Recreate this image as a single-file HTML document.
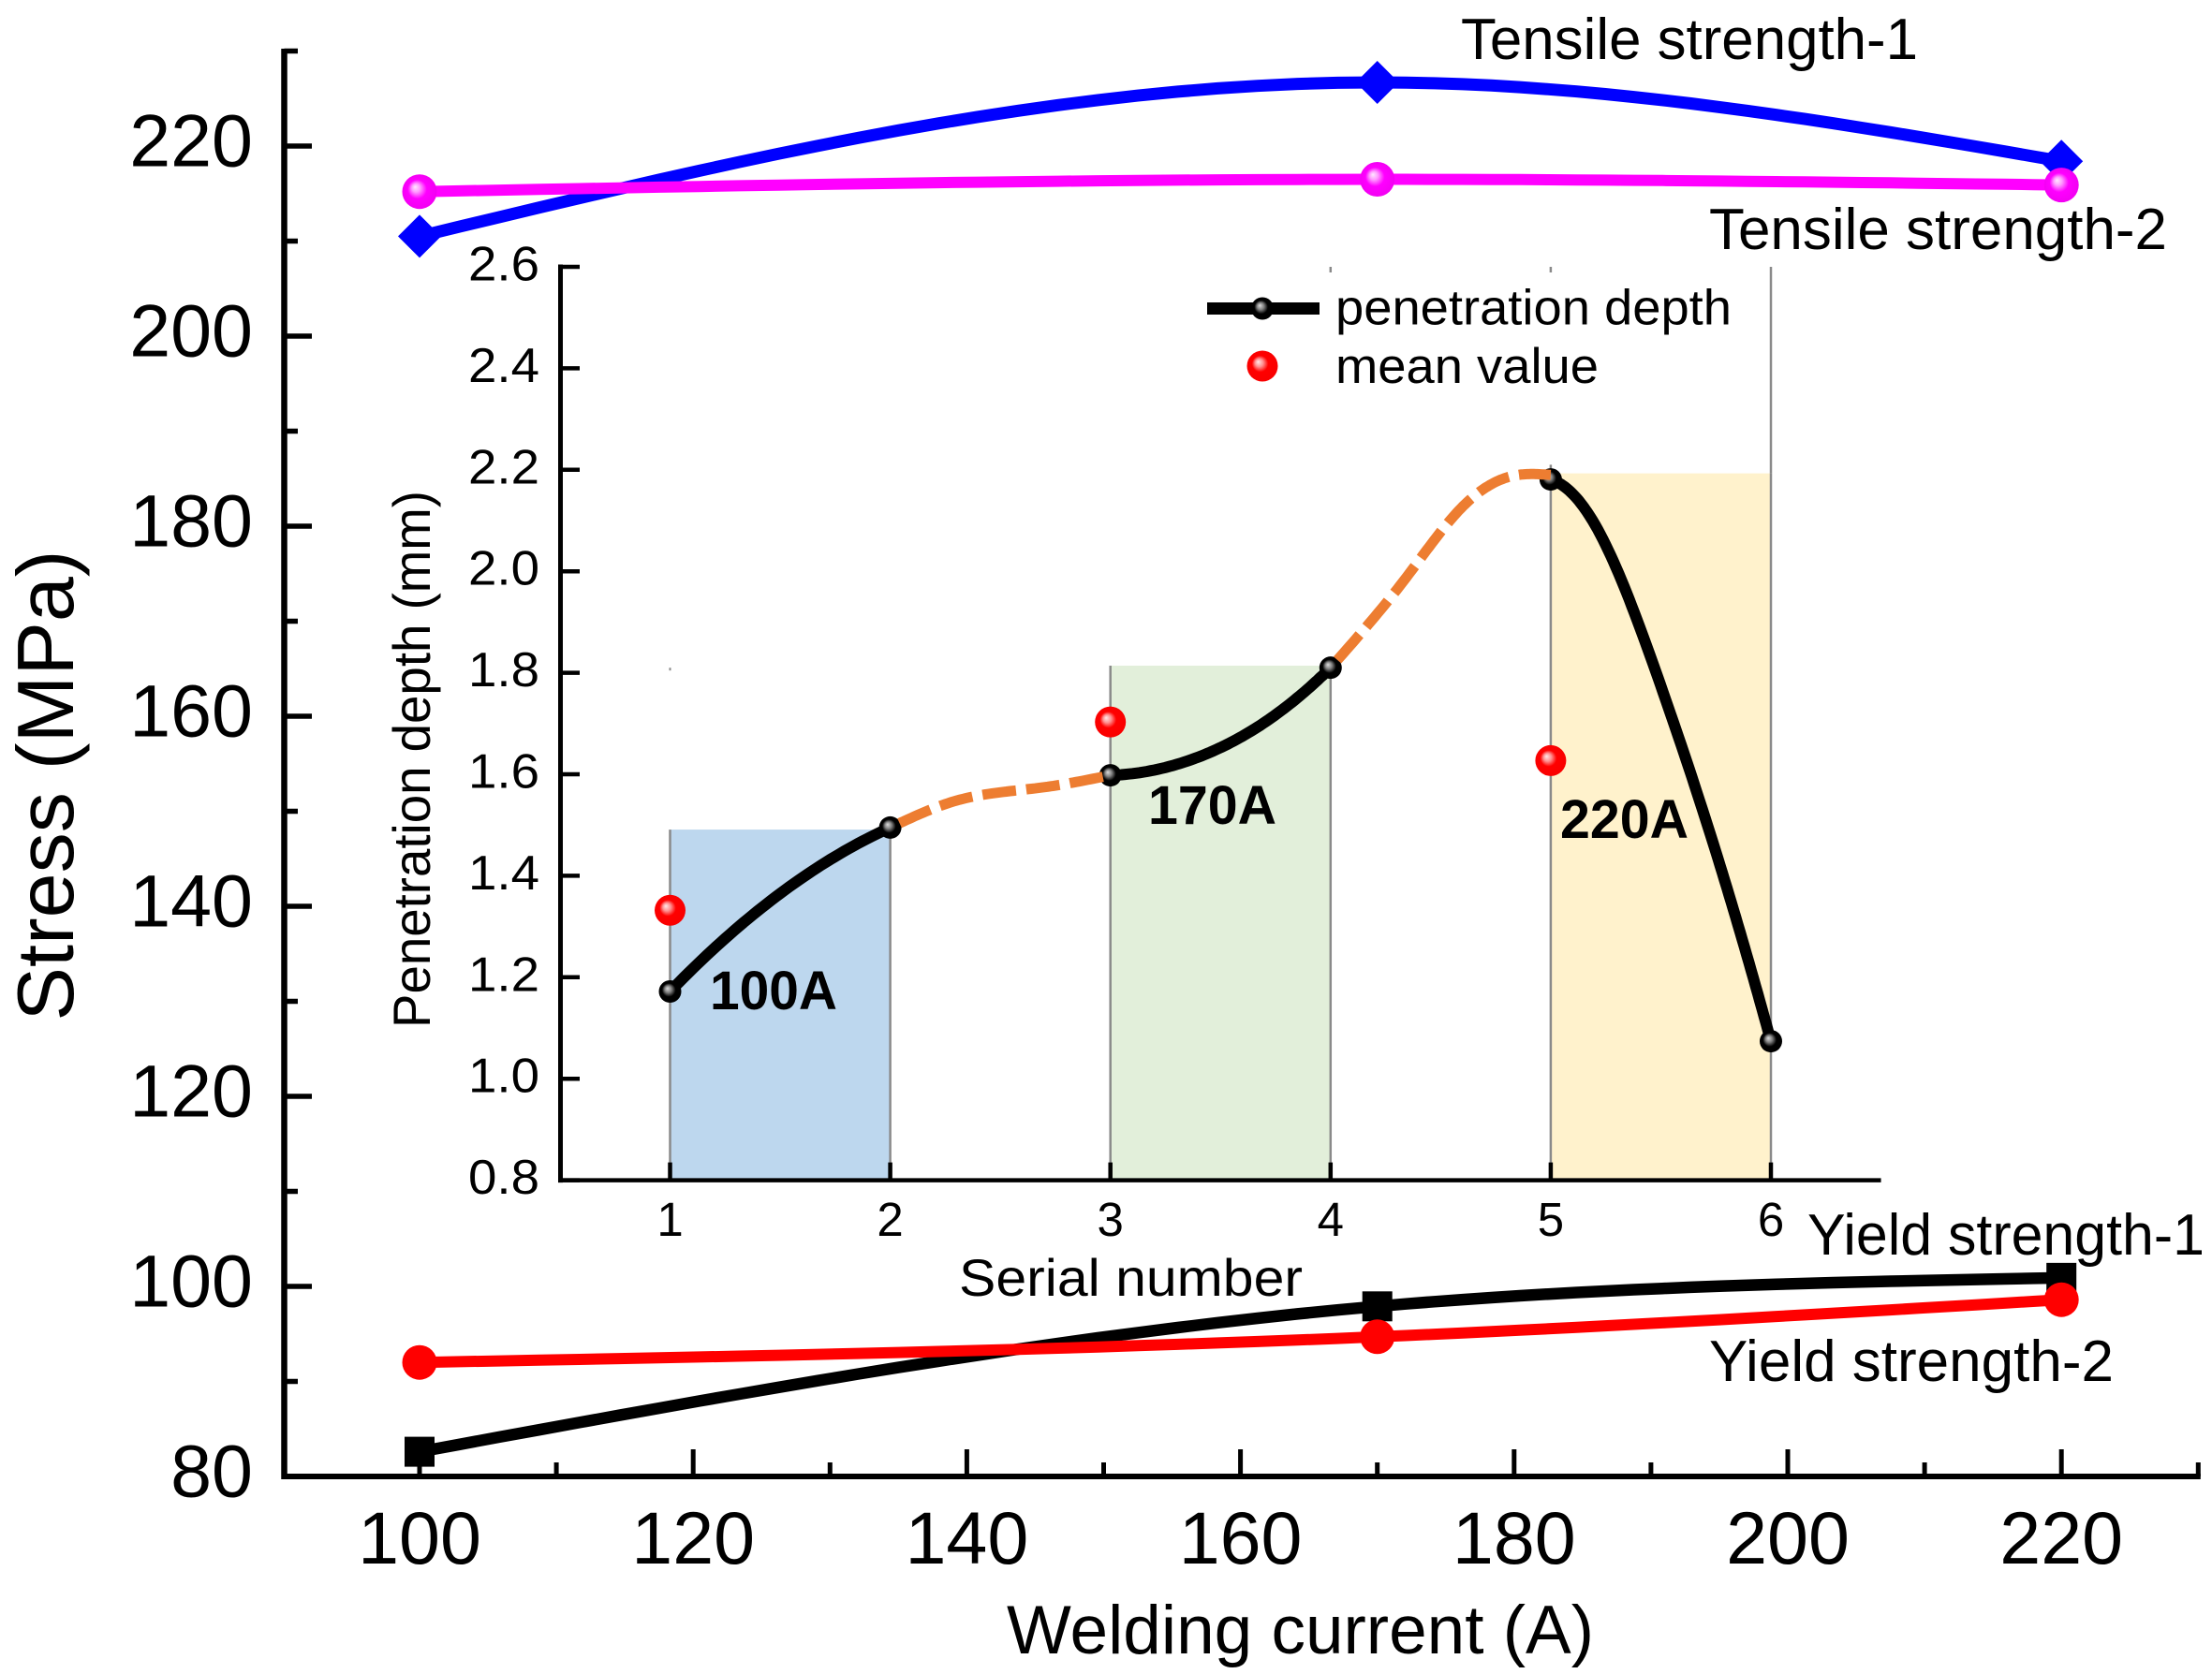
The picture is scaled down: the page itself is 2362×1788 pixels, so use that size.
<!DOCTYPE html>
<html lang="en">
<head>
<meta charset="utf-8">
<title>Stress and penetration depth versus welding current</title>
<style>
html,body{margin:0;padding:0;background:#fff;}
svg{display:block;font-family:"Liberation Sans",Arial,sans-serif;fill:#000;}
</style>
</head>
<body>
<svg id="chart" xmlns="http://www.w3.org/2000/svg" width="2362" height="1788" viewBox="0 0 2362 1788">
  <defs>
    <radialGradient id="gradMagenta" cx="0.5" cy="0.5" r="0.55" fx="0.37" fy="0.36">
      <stop offset="0" stop-color="#ffe8ff"/><stop offset="0.22" stop-color="#ff9cff"/><stop offset="0.5" stop-color="#ff00ff"/><stop offset="1" stop-color="#f000f0"/>
    </radialGradient>
    <radialGradient id="gradRed" cx="0.5" cy="0.5" r="0.55" fx="0.36" fy="0.36">
      <stop offset="0" stop-color="#ffeaea"/><stop offset="0.24" stop-color="#ff9090"/><stop offset="0.48" stop-color="#ff0000"/><stop offset="1" stop-color="#f80000"/>
    </radialGradient>
    <radialGradient id="gradBlack" cx="0.5" cy="0.5" r="0.55" fx="0.38" fy="0.36">
      <stop offset="0" stop-color="#dcdcdc"/><stop offset="0.28" stop-color="#808080"/><stop offset="0.55" stop-color="#000"/><stop offset="1" stop-color="#000"/>
    </radialGradient>
  </defs>

  <g id="bands"></g>
  <g id="mainSeries"></g>
  <g id="mainAxes"></g>
  <g id="insetAxes"></g>
  <g id="insetSeries"></g>

  <text x="78" y="839" font-size="85" text-anchor="middle" textLength="503" lengthAdjust="spacingAndGlyphs" transform="rotate(-90 78 839)">Stress (MPa)</text>
  <text x="1075" y="1766" font-size="73" textLength="627" lengthAdjust="spacingAndGlyphs">Welding current (A)</text>

  <text x="1560" y="63" font-size="62" textLength="488" lengthAdjust="spacingAndGlyphs">Tensile strength-1</text>
  <text x="1825" y="266" font-size="62" textLength="489" lengthAdjust="spacingAndGlyphs">Tensile strength-2</text>
  <text x="1930" y="1340" font-size="62" textLength="424" lengthAdjust="spacingAndGlyphs">Yield strength-1</text>
  <text x="1825" y="1475" font-size="62" textLength="432" lengthAdjust="spacingAndGlyphs">Yield strength-2</text>

  <text x="459" y="811" font-size="56" text-anchor="middle" textLength="574" lengthAdjust="spacingAndGlyphs" transform="rotate(-90 459 811)">Penetration depth (mm)</text>
  <text x="1024" y="1384" font-size="56" textLength="367" lengthAdjust="spacingAndGlyphs">Serial number</text>

  <text x="758" y="1078" font-size="58" font-weight="bold" textLength="136" lengthAdjust="spacingAndGlyphs">100A</text>
  <text x="1226" y="880" font-size="58" font-weight="bold" textLength="137" lengthAdjust="spacingAndGlyphs">170A</text>
  <text x="1666" y="895" font-size="58" font-weight="bold" textLength="137" lengthAdjust="spacingAndGlyphs">220A</text>

  <g>
    <rect x="1289" y="323" width="120" height="13" fill="#000"/>
    <circle cx="1348" cy="329.5" r="12" fill="url(#gradBlack)"/>
    <text x="1426" y="346.5" font-size="53" textLength="423" lengthAdjust="spacingAndGlyphs">penetration depth</text>
    <circle cx="1348" cy="391" r="16.5" fill="url(#gradRed)"/>
    <text x="1426" y="409" font-size="53" textLength="281" lengthAdjust="spacingAndGlyphs">mean value</text>
  </g>

<script>
// Main chart data
const currents = [100, 170, 220];
const tensile1 = [210.5, 226.7, 218.4];
const tensile2 = [215.2, 216.5, 215.9];
const yield1 = [82.6, 97.9, 100.9];
const yield2 = [92.0, 94.7, 98.6];
const mainXMajorTicks = [100, 120, 140, 160, 180, 200, 220];
const mainXMinorTicks = [110, 130, 150, 170, 190, 210, 230];
const mainYMajorTicks = [80, 100, 120, 140, 160, 180, 200, 220];
const mainYMinorTicks = [90, 110, 130, 150, 170, 190, 210, 230];

// Inset chart data
const serialNumbers = [1, 2, 3, 4, 5, 6];
const depth = [1.172, 1.495, 1.598, 1.81, 2.181, 1.074];
const meanSerial = [1, 3, 5];
const meanValues = [1.332, 1.703, 1.627];
const insetYTicks = [0.8, 1.0, 1.2, 1.4, 1.6, 1.8, 2.0, 2.2, 2.4, 2.6];
const bandStarts = [1, 3, 5];
const bandEnds = [2, 4, 6];
const bandTops = [1.491, 1.814, 2.193];
const bandColors = ["#bdd7ee", "#e2efda", "#fff2cc"];

// Curve samples (serial position / depth)
const seg12X = [1, 1.5, 2];
const seg12Y = [depth[0], 1.365, depth[1]];
const seg23X = [2, 2.3, 2.69, 3];
const seg23Y = [depth[1], 1.548, 1.574, depth[2]];
const seg34X = [3, 3.4, 3.72, 4];
const seg34Y = [depth[2], 1.634, 1.708, depth[3]];
const seg45X = [4, 4.344, 4.592, 4.818, 5];
const seg45Y = [depth[3], 1.988, 2.124, 2.187, 2.19];
const seg56X = [5, 5.19, 5.475, 5.76, 6];
const seg56Y = [depth[4], 2.10, 1.805, 1.433, depth[5]];

// Axis functions
const mx = v => 448 + (v - 100) * 14.61;
const my = v => 1577 - (v - 80) * 10.15;
const ix = v => 715.5 + (v - 1) * 235.1;
const iy = v => 1260.6 - (v - 0.8) * 542;

const NS = "http://www.w3.org/2000/svg";
function make(parentId, tag, attrs) {
  const el = document.createElementNS(NS, tag);
  for (const k in attrs) el.setAttribute(k, attrs[k]);
  document.getElementById(parentId).appendChild(el);
  return el;
}

// Cubic spline through points, returned as an SVG path.
// runout=false: natural ends; runout=true: parabolic ends (even curvature).
function splinePath(xs, ys, sx, sy, runout) {
  const n = xs.length;
  const a = new Array(n).fill(0), b = new Array(n).fill(0), m = new Array(n).fill(0);
  for (let i = 1; i < n - 1; i++) {
    const h0 = xs[i] - xs[i - 1], h1 = xs[i + 1] - xs[i];
    let diag = 2 * (h0 + h1);
    if (runout && i === 1) diag += h0;
    if (runout && i === n - 2) diag += h1;
    const w = diag - h0 * a[i - 1];
    a[i] = h1 / w;
    b[i] = (6 * ((ys[i + 1] - ys[i]) / h1 - (ys[i] - ys[i - 1]) / h0) - h0 * b[i - 1]) / w;
  }
  for (let i = n - 2; i > 0; i--) m[i] = b[i] - a[i] * m[i + 1];
  if (runout) { m[0] = m[1]; m[n - 1] = m[n - 2]; }
  let d = "M" + sx(xs[0]).toFixed(1) + " " + sy(ys[0]).toFixed(1);
  for (let i = 0; i < n - 1; i++) {
    const h = xs[i + 1] - xs[i];
    for (let s = 1; s <= 24; s++) {
      const t = xs[i] + h * s / 24;
      const p = xs[i + 1] - t, q = t - xs[i];
      const y = (m[i] * p * p * p + m[i + 1] * q * q * q) / (6 * h)
        + (ys[i] / h - m[i] * h / 6) * p + (ys[i + 1] / h - m[i + 1] * h / 6) * q;
      d += "L" + sx(t).toFixed(1) + " " + sy(y).toFixed(1);
    }
  }
  return d;
}

// ---- Main axes ----
const mainYAxis = make("mainAxes", "line", {x1: 303.5, y1: my(230) - 2.5, x2: 303.5, y2: my(80) + 3, stroke: "#000", "stroke-width": 6.5});


const mainXAxis = make("mainAxes", "line", {x1: 301, y1: 1577, x2: mx(230) + 2.5, y2: 1577, stroke: "#000", "stroke-width": 6});



mainXMajorTicks.forEach(v => {
  const t = make("mainAxes", "line", {x1: mx(v), y1: 1577, x2: mx(v), y2: 1548, stroke: "#000", "stroke-width": 5});
  
  
  const l = make("mainAxes", "text", {x: mx(v), y: 1670, "font-size": 79, "text-anchor": "middle"});
  
  
  l.textContent = v;
});
mainXMinorTicks.forEach(v => {
  const t = make("mainAxes", "line", {x1: mx(v), y1: 1577, x2: mx(v), y2: 1562, stroke: "#000", "stroke-width": 5});
  
  
});
mainYMajorTicks.forEach(v => {
  const t = make("mainAxes", "line", {x1: 303.5, y1: my(v), x2: 333, y2: my(v), stroke: "#000", "stroke-width": 5.5});
  
  
  const l = make("mainAxes", "text", {x: 270, y: my(v) + 21.5, "font-size": 79, "text-anchor": "end"});
  
  
  l.textContent = v;
});
mainYMinorTicks.forEach(v => {
  const t = make("mainAxes", "line", {x1: 303.5, y1: my(v), x2: 318, y2: my(v), stroke: "#000", "stroke-width": 5.5});
  
  
});

// ---- Main series ----
const lineTensile1 = make("mainSeries", "path", {d: splinePath(currents, tensile1, mx, my, false), fill: "none", stroke: "#0000ff", "stroke-width": 13});


currents.forEach((c, i) => {
  const x = mx(c), y = my(tensile1[i]), r = 23;
  const m = make("mainSeries", "polygon", {points: x + "," + (y - r) + " " + (x + r) + "," + y + " " + x + "," + (y + r) + " " + (x - r) + "," + y, fill: "#0000ff"});
  
  
});
const lineTensile2 = make("mainSeries", "path", {d: splinePath(currents, tensile2, mx, my, false), fill: "none", stroke: "#ff00ff", "stroke-width": 12});


currents.forEach((c, i) => {
  const m = make("mainSeries", "circle", {cx: mx(c), cy: my(tensile2[i]), r: 18.5, fill: "url(#gradMagenta)"});
  
  
});
const lineYield1 = make("mainSeries", "path", {d: splinePath(currents, yield1, mx, my, false), fill: "none", stroke: "#000", "stroke-width": 12.5});


currents.forEach((c, i) => {
  const m = make("mainSeries", "rect", {x: mx(c) - 16, y: my(yield1[i]) - 16, width: 32, height: 32, fill: "#000"});
  
  
});
const lineYield2 = make("mainSeries", "path", {d: splinePath(currents, yield2, mx, my, false), fill: "none", stroke: "#ff0000", "stroke-width": 12});


currents.forEach((c, i) => {
  const m = make("mainSeries", "circle", {cx: mx(c), cy: my(yield2[i]), r: 18.5, fill: "#ff0000"});
  
  
});

// ---- Inset bands and guide lines ----
bandStarts.forEach((s, i) => {
  const b = make("bands", "rect", {x: ix(s), y: iy(bandTops[i]), width: ix(bandEnds[i]) - ix(s), height: iy(0.8) - iy(bandTops[i]), fill: bandColors[i]});
  
  
  const g1 = make("bands", "line", {x1: ix(s), y1: iy(bandTops[i]), x2: ix(s), y2: iy(0.8), stroke: "#8a8a8a", "stroke-width": 2.5});
  
  
  const g2 = make("bands", "line", {x1: ix(bandEnds[i]), y1: iy(bandTops[i]), x2: ix(bandEnds[i]), y2: iy(0.8), stroke: "#8a8a8a", "stroke-width": 2.5});
  
  
});
const guideTop6 = make("bands", "line", {x1: ix(6), y1: iy(2.6), x2: ix(6), y2: iy(bandTops[2]), stroke: "#8a8a8a", "stroke-width": 2.5});


const guideTop5 = make("bands", "line", {x1: ix(5), y1: iy(2.6), x2: ix(5), y2: iy(2.6) + 6, stroke: "#8a8a8a", "stroke-width": 2.5});


const guideTop4 = make("bands", "line", {x1: ix(4), y1: iy(2.6), x2: ix(4), y2: iy(2.6) + 6, stroke: "#8a8a8a", "stroke-width": 2.5});


const guideAbove5 = make("bands", "line", {x1: ix(5), y1: iy(2.21), x2: ix(5), y2: iy(bandTops[2]), stroke: "#8a8a8a", "stroke-width": 2.5});


const guideDot1 = make("bands", "line", {x1: ix(1), y1: iy(1.81), x2: ix(1), y2: iy(1.81) + 3, stroke: "#8a8a8a", "stroke-width": 2});



// ---- Inset axes ----
const insetYAxis = make("insetAxes", "line", {x1: 598.5, y1: iy(2.6) - 2.5, x2: 598.5, y2: iy(0.8) + 2.5, stroke: "#000", "stroke-width": 5});


const insetXAxis = make("insetAxes", "line", {x1: 596, y1: iy(0.8), x2: ix(6.5), y2: iy(0.8), stroke: "#000", "stroke-width": 4.5});


insetYTicks.forEach(v => {
  const t = make("insetAxes", "line", {x1: 598.5, y1: iy(v), x2: 619, y2: iy(v), stroke: "#000", "stroke-width": 4.5});
  
  
  const l = make("insetAxes", "text", {x: 576, y: iy(v) + 14.5, "font-size": 52, "text-anchor": "end", textLength: 76, lengthAdjust: "spacingAndGlyphs"});
  
  
  l.textContent = v.toFixed(1);
});
serialNumbers.forEach(v => {
  const t = make("insetAxes", "line", {x1: ix(v), y1: iy(0.8), x2: ix(v), y2: iy(0.8) - 19, stroke: "#000", "stroke-width": 4.5});
  
  
  const l = make("insetAxes", "text", {x: ix(v), y: 1320, "font-size": 51, "text-anchor": "middle"});
  
  
  l.textContent = v;
});

// ---- Inset series ----
const seg1 = make("insetSeries", "path", {d: splinePath(seg12X, seg12Y, ix, iy, true), fill: "none", stroke: "#000", "stroke-width": 12});


const seg3 = make("insetSeries", "path", {d: splinePath(seg34X, seg34Y, ix, iy, true), fill: "none", stroke: "#000", "stroke-width": 12});


const seg5 = make("insetSeries", "path", {d: splinePath(seg56X, seg56Y, ix, iy, true), fill: "none", stroke: "#000", "stroke-width": 12});


serialNumbers.forEach((s, i) => {
  const m = make("insetSeries", "circle", {cx: ix(s), cy: iy(depth[i]), r: 12, fill: "url(#gradBlack)"});
  
  
});
const seg2 = make("insetSeries", "path", {d: splinePath(seg23X, seg23Y, ix, iy, false), fill: "none", stroke: "#ed7d31", "stroke-width": 11, "stroke-dasharray": "36 11", "stroke-dashoffset": -11});


const seg4 = make("insetSeries", "path", {d: splinePath(seg45X, seg45Y, ix, iy, false), fill: "none", stroke: "#ed7d31", "stroke-width": 11, "stroke-dasharray": "36 11", "stroke-dashoffset": -11});


meanSerial.forEach((s, i) => {
  const m = make("insetSeries", "circle", {cx: ix(s), cy: iy(meanValues[i]), r: 16.5, fill: "url(#gradRed)"});
  
  
});
</script>
</svg>
</body>
</html>
